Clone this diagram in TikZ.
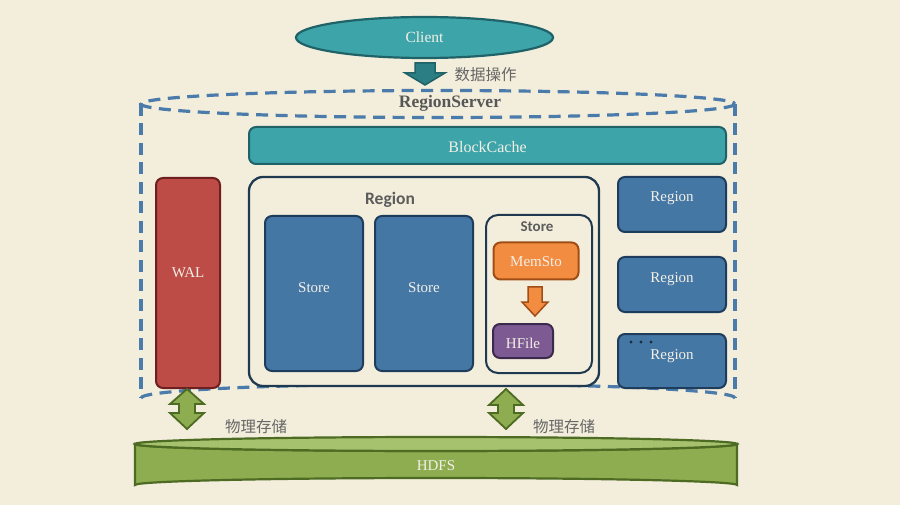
\documentclass[tikz,border=0pt]{standalone}
\usepackage{fontspec}
\usetikzlibrary{shapes.geometric}
\setmainfont{Liberation Serif}
\newfontfamily\cjk{Noto Sans CJK SC}
\newfontfamily\sansbold{Carlito}
\definecolor{bgc}{HTML}{F3EEDC}
\definecolor{tealf}{HTML}{3DA5A9}
\definecolor{teald}{HTML}{1F6268}
\definecolor{tealarrow}{HTML}{2B7E84}
\definecolor{dashblue}{HTML}{4A7BAA}
\definecolor{storeblue}{HTML}{4577A5}
\definecolor{storeborder}{HTML}{1E3D5C}
\definecolor{walred}{HTML}{BD4B46}
\definecolor{walborder}{HTML}{6E1F1F}
\definecolor{memorange}{HTML}{F28C40}
\definecolor{memborder}{HTML}{A14E16}
\definecolor{hfpurple}{HTML}{7D5B92}
\definecolor{hfborder}{HTML}{3C2A4E}
\definecolor{hdfsgreen}{HTML}{8DAD50}
\definecolor{hdfstop}{HTML}{A7C26E}
\definecolor{greenborder}{HTML}{4D6B22}
\definecolor{graytext}{HTML}{666666}
\definecolor{navy}{HTML}{1F3A50}
\definecolor{lighttext}{HTML}{F2EFE6}
\begin{document}
\begin{tikzpicture}[x=1pt,y=-1pt,
  box/.style={rectangle,rounded corners=7pt,line width=2pt,inner sep=0pt,
    font=\fontsize{15}{17}\selectfont,text=lighttext},
  boxtext/.style={inner sep=0pt,font=\fontsize{15}{17}\selectfont,text=lighttext},
  bluebox/.style={box,fill=storeblue,draw=storeborder},
  container/.style={rectangle,rounded corners=14pt,line width=2.3pt,draw=navy,fill=bgc,inner sep=0pt},
  titletext/.style={font=\sansbold\bfseries\fontsize{17.5}{19}\selectfont,text=graytext!90!black},
  cjklabel/.style={font=\cjk\fontsize{15.5}{17}\selectfont,text=graytext},
  rsdash/.style={draw=dashblue,line width=3.2pt,dash pattern=on 12pt off 7.5pt},
  greenarrow/.style={fill=hdfsgreen,draw=greenborder,line width=1.8pt,line join=miter}]
\useasboundingbox (0,0) rectangle (900,505);
\fill[bgc] (0,0) rectangle (900,505);

% RegionServer cylinder (dashed)
\draw[rsdash] (438,104) ellipse [x radius=297, y radius=13.5];
\draw[rsdash] (141,104) -- (141,398);
\draw[rsdash] (735,104) -- (735,398);
\draw[rsdash] (141,398) arc[start angle=180,end angle=360,x radius=297,y radius=14];
\node[font=\bfseries\fontsize{17.5}{19}\selectfont,text=graytext!85!black] (rs) at (450,103) {RegionServer};

% Client
\node[ellipse,minimum width=257pt,minimum height=41pt,fill=tealf,draw=teald,line width=2.2pt,
  font=\fontsize{15.5}{17}\selectfont,text=lighttext,inner sep=0pt] (client) at (424.5,37.5) {Client};
\draw[fill=tealarrow,draw=teald,line width=1.5pt,line join=miter]
  (415,63) -- (435,63) -- (435,73) -- (445,73) -- (425,85) -- (405,73) -- (415,73) -- cycle;
\node[cjklabel,anchor=west] (op) at (451,75) {数据操作};

% BlockCache
\node[box,fill=tealf,draw=teald,minimum width=477pt,minimum height=37pt] (bc) at (487.5,145.5) {};
\node[boxtext,font=\fontsize{16}{18}\selectfont] (bct) at ([yshift=-1.5pt]bc.center) {BlockCache};

% WAL
\node[box,fill=walred,draw=walborder,minimum width=64pt,minimum height=210pt] (wal) at (188,283) {};
\node[boxtext] (walt) at ([yshift=10pt]wal.center) {WAL};

% Region container
\node[container,minimum width=350pt,minimum height=209pt] (region) at (424,281.5) {};
\node[titletext] (regiontitle) at (390,200) {Region};

\node[bluebox,minimum width=98pt,minimum height=155pt] (store1) at (314,293.5) {};
\node[boxtext] (store1t) at ([yshift=6pt]store1.center) {Store};
\node[bluebox,minimum width=98pt,minimum height=155pt] (store2) at (424,293.5) {};
\node[boxtext] (store2t) at ([yshift=6pt]store2.center) {Store};

\node[container,rounded corners=12pt,line width=2pt,minimum width=106pt,minimum height=158pt] (store3) at (539,294) {};
\node[titletext,font=\sansbold\bfseries\fontsize{15}{17}\selectfont] (store3title) at (537,227) {Store};
\node[box,fill=memorange,draw=memborder,minimum width=85pt,minimum height=37pt] (mem) at (536,261) {};
\node[boxtext] (memt) at ([yshift=-1pt]mem.center) {MemSto};
\draw[fill=memorange,draw=memborder,line width=1.5pt,line join=miter]
  (528,287) -- (542,287) -- (542,302) -- (548,302) -- (535,316) -- (522,302) -- (528,302) -- cycle;
\node[box,fill=hfpurple,draw=hfborder,minimum width=60pt,minimum height=34pt] (hfile) at (523,341) {};
\node[boxtext] (hfilet) at ([yshift=-2pt]hfile.center) {HFile};

% Right regions
\node[bluebox,minimum width=108pt,minimum height=55pt] (r1) at (672,204.5) {};
\node[boxtext] (r1t) at ([yshift=6pt]r1.center) {Region};
\node[bluebox,minimum width=108pt,minimum height=55pt] (r2) at (672,284.5) {};
\node[boxtext] (r2t) at ([yshift=5pt]r2.center) {Region};
\node[bluebox,minimum width=108pt,minimum height=54pt] (r3) at (672,361) {};
\node[boxtext] (r3t) at ([yshift=5pt]r3.center) {Region};
\foreach \dx in {631,641,651} \fill[navy!80!black] (\dx,342) circle (1.6pt);

% HDFS cylinder
\draw[fill=hdfsgreen,draw=greenborder,line width=2.2pt]
  (135,444) -- (135,485) arc[start angle=180,end angle=360,x radius=301,y radius=7]
  -- (737,444) arc[start angle=0,end angle=180,x radius=301,y radius=7] -- cycle;
\draw[fill=hdfstop,draw=greenborder,line width=2.2pt] (436,444) ellipse [x radius=301, y radius=7];
\node[font=\fontsize{15}{17}\selectfont,text=lighttext] (hdfs) at (436,466) {HDFS};

% Double arrows
\draw[greenarrow] (187,389) -- (204,404) -- (195,404) -- (195,413) -- (204,413) -- (187,429)
  -- (170,413) -- (179,413) -- (179,404) -- (170,404) -- cycle;
\draw[greenarrow] (506,389) -- (523,405) -- (514,405) -- (514,413) -- (523,413) -- (506,429)
  -- (489,413) -- (498,413) -- (498,405) -- (489,405) -- cycle;
\node[cjklabel] (ps1) at (256,427) {物理存储};
\node[cjklabel] (ps2) at (564,427) {物理存储};
\end{tikzpicture}
\end{document}
